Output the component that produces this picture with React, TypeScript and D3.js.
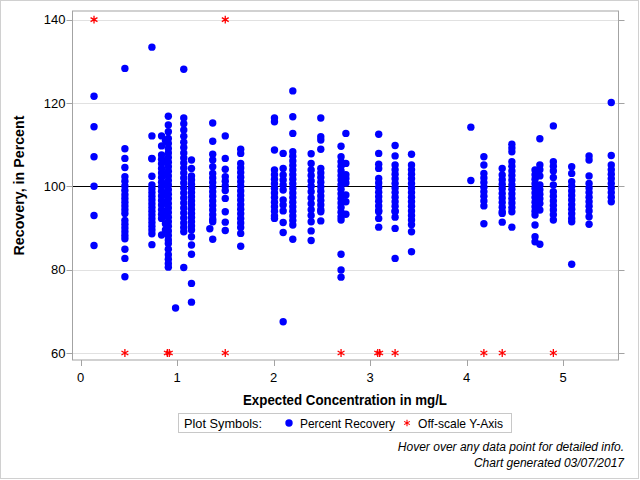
import React from "react";
import * as d3 from "d3";

const concentrations = [0.14, 0.46, 0.74, 0.84, 0.88, 0.91, 0.985, 1.07, 1.15, 1.34, 1.37, 1.5, 1.66, 2.01, 2.1, 2.2, 2.39, 2.49, 2.7, 2.75, 3.09, 3.26, 3.43, 4.045, 4.18, 4.37, 4.47, 4.71, 4.76, 4.9, 5.09, 5.27, 5.5];

const recoveries: number[][] = [
  [121.6, 114.3, 107.1, 100.0, 93.0, 85.8],
  [128.3, 109.0, 106.7, 104.5, 102.3, 101.2, 100.1, 99.0, 98.0, 97.1, 96.2, 95.3, 94.4, 93.5, 91.8, 90.9, 90.0, 89.1, 88.2, 87.4, 84.9, 82.7, 78.3],
  [133.4, 112.1, 106.7, 106.6, 102.4, 100.3, 99.4, 98.5, 97.6, 96.7, 95.8, 94.9, 94.0, 93.1, 92.2, 91.3, 90.4, 89.5, 88.6, 86.0],
  [112.1, 109.7, 107.5, 106.5, 105.4, 104.3, 103.2, 102.1, 101.0, 99.9, 98.8, 97.7, 96.6, 95.5, 94.4, 93.3, 92.3, 88.3],
  [111.0, 106.0, 103.0, 100.5, 98.0, 96.0, 93.5, 91.0, 89.5],
  [116.8, 114.7, 113.1, 111.5, 110.3, 109.1, 108.0, 106.9, 105.8, 104.7, 103.6, 102.5, 101.4, 100.3, 99.2, 98.1, 97.0, 95.9, 94.8, 93.7, 92.6, 91.5, 90.4, 89.3, 88.2, 87.1, 86.3, 84.9, 83.6, 82.5, 81.5, 80.6],
  [70.8],
  [128.1, 116.4, 115.0, 113.5, 112.0, 110.6, 109.3, 108.0, 106.8, 105.6, 104.4, 103.2, 102.0, 100.8, 99.6, 98.4, 97.2, 96.0, 94.8, 93.6, 92.4, 91.2, 90.1, 89.1, 80.5],
  [106.3, 104.3, 102.5, 101.5, 100.5, 99.5, 98.5, 97.5, 96.5, 95.5, 94.5, 93.5, 92.5, 91.5, 90.5, 89.5, 87.9, 85.9, 83.7, 76.7, 72.2],
  [89.8],
  [115.2, 110.8, 107.7, 106.3, 104.7, 103.1, 102.0, 100.9, 99.8, 98.7, 97.6, 96.5, 95.4, 94.3, 93.2, 92.1, 91.5, 87.3],
  [112.1, 106.7, 104.1, 102.3, 101.2, 100.1, 99.0, 97.1, 93.9, 91.4, 89.4],
  [108.9, 107.9, 105.5, 104.4, 103.3, 102.2, 101.1, 100.0, 98.9, 97.8, 96.7, 95.6, 94.5, 93.4, 92.3, 91.2, 90.1, 88.7, 85.6],
  [116.4, 115.5, 108.7, 103.9, 102.8, 101.7, 100.6, 99.5, 98.4, 97.3, 96.2, 95.1, 94.0, 92.9, 92.3],
  [107.9, 104.3, 102.7, 101.5, 100.3, 99.1, 96.7, 95.5, 94.1, 91.3, 88.9, 67.5],
  [122.9, 116.7, 112.7, 108.3, 107.2, 106.1, 105.0, 103.9, 102.8, 101.7, 100.6, 99.5, 98.4, 97.3, 96.2, 95.1, 94.0, 92.9, 91.8, 90.7, 87.3],
  [107.8, 105.5, 103.9, 102.6, 101.3, 100.0, 98.7, 97.2, 95.8, 94.4, 93.0, 91.5, 89.3, 87.0],
  [116.4, 111.9, 111.1, 108.9, 104.3, 103.2, 102.1, 101.0, 99.9, 98.8, 97.7, 96.6, 95.5, 94.4, 93.9, 91.7],
  [109.6, 107.1, 105.9, 104.8, 103.7, 102.6, 101.5, 100.4, 99.3, 98.2, 97.1, 96.0, 94.9, 93.8, 92.7, 91.9, 83.7, 79.9, 78.2],
  [112.7, 105.5, 102.8, 101.9, 100.8, 97.9, 96.3, 93.3],
  [112.5, 107.9, 105.3, 104.3, 101.9, 100.8, 99.7, 98.6, 97.5, 96.4, 95.3, 94.2, 93.9, 92.3, 90.2],
  [109.8, 107.3, 105.1, 104.0, 102.9, 101.8, 100.7, 99.6, 98.5, 97.4, 96.3, 95.2, 94.1, 93.9, 92.6, 89.9, 82.7],
  [107.7, 105.1, 104.0, 102.9, 101.8, 100.7, 99.6, 98.5, 97.4, 96.3, 95.2, 94.1, 93.0, 91.9, 90.8, 89.1, 84.3],
  [114.2, 101.4],
  [107.1, 105.1, 103.1, 102.0, 100.9, 99.8, 98.7, 97.6, 96.5, 95.3, 91.0],
  [104.3, 102.7, 101.6, 100.5, 99.4, 98.3, 97.2, 96.1, 95.0, 93.9, 93.5, 91.4],
  [110.1, 109.2, 108.3, 105.9, 104.8, 103.7, 102.6, 101.5, 100.4, 99.3, 98.2, 97.1, 96.0, 94.9, 93.9, 90.2],
  [103.9, 102.8, 101.7, 100.6, 99.5, 98.4, 97.3, 96.2, 95.1, 94.0, 93.1, 90.7, 87.9, 86.7],
  [111.4, 105.1, 104.0, 102.5, 100.3, 99.2, 98.1, 97.0, 95.9, 94.3, 86.1],
  [114.5, 105.9, 104.8, 103.7, 102.1, 100.3, 98.7, 97.6, 96.5, 95.4, 94.3, 93.2, 91.9],
  [104.7, 103.1, 101.1, 100.0, 98.9, 97.8, 96.7, 95.6, 94.5, 93.4, 92.3, 91.5, 81.3],
  [107.3, 106.3, 102.5, 100.7, 99.6, 98.5, 97.4, 96.3, 95.2, 94.1, 92.7, 90.9],
  [120.1, 107.4, 105.1, 104.0, 102.9, 101.8, 100.7, 99.6, 98.5, 97.4, 96.3],
];

const offScaleHighX = [0.14, 1.5];
const offScaleLowX = [0.46, 0.9, 0.92, 1.5, 2.7, 3.08, 3.1, 3.26, 4.18, 4.37, 4.9];
const xTicks = [0, 1, 2, 3, 4, 5];
const yTicks = [60, 80, 100, 120, 140];
const yMin = 60;
const yMax = 140;
const referenceY = 100;

const FONT = "'Liberation Sans', Arial, sans-serif";

export default function App() {
  const left = 72.5, right = 618.5, top = 11, bottom = 360;
  const x = d3.scaleLinear().domain([-0.083, 5.575]).range([left, right]);
  const y = d3.scaleLinear().domain([58.31, 142.07]).range([bottom, top]);
  const star = d3.symbol(d3.symbolAsterisk, 44)() as string;
  const legendStar = d3.symbol(d3.symbolAsterisk, 30)() as string;

  const points: { cx: number; cy: number; key: string }[] = [];
  concentrations.forEach((c, i) => {
    recoveries[i].forEach((v, j) => {
      points.push({ cx: x(c), cy: y(v), key: `${i}-${j}` });
    });
  });

  return (
    <svg width={640} height={480} style={{ position: "absolute", left: 0, top: 0 }} fontFamily={FONT}>
      <rect x={0.5} y={0.5} width={638} height={478} fill="white" stroke="#d0d0d0" />
      {yTicks.map((t) => (
        <line key={`g${t}`} x1={left} x2={right} y1={Math.round(y(t)) + 0.5} y2={Math.round(y(t)) + 0.5} stroke={t === referenceY ? "#000" : "#e1e1e1"} strokeWidth={1} />
      ))}
      <rect x={left} y={top} width={right - left} height={bottom - top} fill="none" stroke="#a3a3a3" />
      {yTicks.map((t) => (
        <g key={`yt${t}`}>
          <line x1={left - 6} x2={left} y1={Math.round(y(t)) + 0.5} y2={Math.round(y(t)) + 0.5} stroke="#a3a3a3" />
          <line x1={right} x2={right + 6} y1={Math.round(y(t)) + 0.5} y2={Math.round(y(t)) + 0.5} stroke="#a3a3a3" />
          <text x={left - 7} y={y(t)} dy="0.35em" textAnchor="end" fontSize={13} fill="#000">{t}</text>
        </g>
      ))}
      {xTicks.map((t) => (
        <g key={`xt${t}`}>
          <line x1={Math.round(x(t)) + 0.5} x2={Math.round(x(t)) + 0.5} y1={bottom} y2={bottom + 6} stroke="#a3a3a3" />
          <text x={x(t)} y={382} textAnchor="middle" fontSize={13} fill="#000">{t}</text>
        </g>
      ))}
      {points.map((p) => (
        <circle key={p.key} cx={p.cx} cy={p.cy} r={3.7} fill="#0000ff" />
      ))}
      {offScaleHighX.map((c, i) => (
        <path key={`h${i}`} d={star} transform={`translate(${x(c)},${y(yMax)})`} fill="none" stroke="#ff0000" strokeWidth={1.3} />
      ))}
      {offScaleLowX.map((c, i) => (
        <path key={`l${i}`} d={star} transform={`translate(${x(c)},${y(yMin)})`} fill="none" stroke="#ff0000" strokeWidth={1.3} />
      ))}
      <text x={243} y={405} fontSize={14} fontWeight="bold" fill="#000" textLength={204} lengthAdjust="spacingAndGlyphs">Expected Concentration in mg/L</text>
      <text transform={`translate(24,${(top + bottom) / 2}) rotate(-90)`} textAnchor="middle" fontSize={14} fontWeight="bold" fill="#000" textLength={140} lengthAdjust="spacingAndGlyphs">Recovery, in Percent</text>
      <rect x={178.5} y={413.5} width={333} height={19} fill="white" stroke="#c8c8c8" />
      <text x={184} y={428} fontSize={13} fill="#000" textLength={78} lengthAdjust="spacingAndGlyphs">Plot Symbols:</text>
      <circle cx={289} cy={423} r={3.7} fill="#0000ff" />
      <text x={300} y={428} fontSize={13} fill="#000" textLength={95} lengthAdjust="spacingAndGlyphs">Percent Recovery</text>
      <path d={legendStar} transform="translate(407,423)" fill="none" stroke="#ff0000" strokeWidth={1.1} />
      <text x={418} y={428} fontSize={13} fill="#000" textLength={85} lengthAdjust="spacingAndGlyphs">Off-scale Y-Axis</text>
      <text x={624} y={451} textAnchor="end" fontSize={12} fontStyle="italic" fill="#000">Hover over any data point for detailed info.</text>
      <text x={624} y={467} textAnchor="end" fontSize={12} fontStyle="italic" fill="#000">Chart generated 03/07/2017</text>
    </svg>
  );
}
